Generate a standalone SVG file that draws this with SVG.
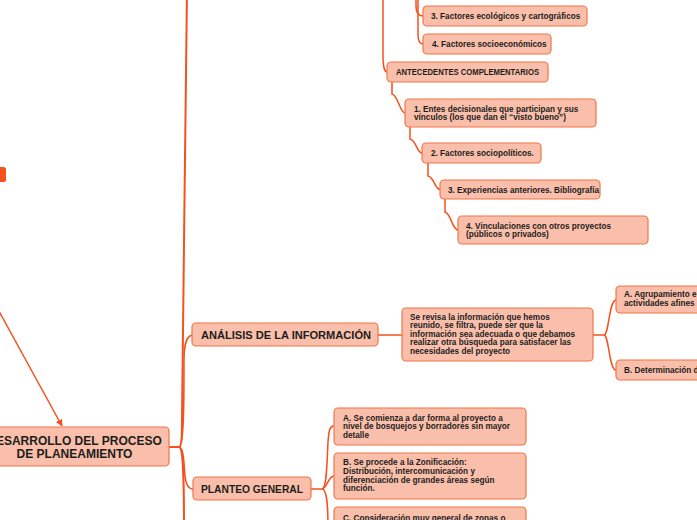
<svg xmlns="http://www.w3.org/2000/svg" width="697" height="520" viewBox="0 0 697 520">
<defs>
<style>
.box{fill:#f9bfaa;stroke:#f27548;stroke-width:1.2}
.ln{fill:none;stroke:#f4511e;stroke-width:1.5}
.tr{fill:none;stroke:#f4511e;stroke-width:2}
.s{font-family:"Liberation Sans",Arial,sans-serif;font-weight:bold;font-size:8.2px;fill:#1d1d1d}
.h{font-family:"Liberation Sans",Arial,sans-serif;font-weight:bold;font-size:11px;fill:#1d1d1d}
.c{font-family:"Liberation Sans",Arial,sans-serif;font-weight:bold;font-size:12px;fill:#1d1d1d;text-anchor:middle}
</style>
<marker id="arr" viewBox="0 0 10 10" refX="9" refY="5" markerWidth="7" markerHeight="7" orient="auto" markerUnits="userSpaceOnUse">
<path d="M0,0 L10,5 L0,10 z" fill="#f4511e"/>
</marker>
</defs>
<rect width="697" height="520" fill="#ffffff"/>

<g id="connectors">
<path class="tr" d="M179,447 C182,447 182,432 182,420 C183,300 186,100 187,-10"/>
<path class="tr" d="M169,447 H179"/>
<path class="ln" d="M179,447 C184,447 184,400 184,362 C184,342 187,335 193,335"/>
<path class="ln" d="M179,447 C184,447 184,466 185,476 C186,486 189,489 193,489"/>
<path class="tr" d="M179,447 C183,447 184,470 184,530"/>
<path class="ln" d="M378,335 H402"/>
<path class="ln" d="M593,335 H604"/>
<path class="ln" d="M604,335 C609,335 609,300 616,300"/>
<path class="ln" d="M604,335 C609,335 609,370 616,370"/>
<path class="ln" d="M311,489 H322"/>
<path class="ln" d="M322,489 C327,489 327,460 328,442 C329,429 330,426 334,426"/>
<path class="ln" d="M322,489 C327,489 328,476 334,476"/>
<path class="ln" d="M322,489 C327,489 328,505 328,530"/>
<path class="ln" d="M383,-10 L383,56 C383,67 385,72 387,72"/>
<path class="ln" d="M416,-10 L416,6 C416,13 419,16 423,16"/>
<path class="ln" d="M418,-10 L418,34 C418,41 420,44 423,44"/>
<path class="ln" d="M392,82 V94 C398,95 400,113 405,113"/>
<path class="ln" d="M410,127 V139 C416,140 417,153 422,153"/>
<path class="ln" d="M428,163 V176 C434,177 435,189.5 440,189.5"/>
<path class="ln" d="M445,199 V212 C451,213 452,230 458,230"/>
<path class="ln" d="M-3,307.5 L62,426" marker-end="url(#arr)"/>
</g>

<g id="left-fragment">
<rect x="-4" y="167" width="10" height="15" rx="2.5" fill="#f4511e"/>
</g>

<g id="n-factores3">
<rect class="box" x="423" y="6" width="164" height="20" rx="4"/>
<text class="s" x="431" y="19">3. Factores ecológicos y cartográficos</text>
</g>
<g id="n-factores4">
<rect class="box" x="423" y="34" width="128" height="20" rx="4"/>
<text class="s" x="432" y="47">4. Factores socioeconómicos</text>
</g>
<g id="n-antecedentes">
<rect class="box" x="387" y="62" width="161" height="20" rx="4"/>
<text class="s" x="396" y="75" textLength="143" lengthAdjust="spacingAndGlyphs">ANTECEDENTES COMPLEMENTARIOS</text>
</g>
<g id="n-entes">
<rect class="box" x="405" y="99" width="191" height="28" rx="4"/>
<text class="s" x="414" y="111.5">1. Entes decisionales que participan y sus</text>
<text class="s" x="414" y="120.3">vínculos (los que dan el “visto bueno”)</text>
</g>
<g id="n-sociopoliticos">
<rect class="box" x="422" y="143" width="119" height="20" rx="4"/>
<text class="s" x="431" y="156">2. Factores sociopolíticos.</text>
</g>
<g id="n-experiencias">
<rect class="box" x="440" y="180" width="160" height="19" rx="4"/>
<text class="s" x="448" y="192.5">3. Experiencias anteriores. Bibliografía</text>
</g>
<g id="n-vinculaciones">
<rect class="box" x="458" y="216" width="190" height="28" rx="4"/>
<text class="s" x="466" y="228.5">4. Vinculaciones con otros proyectos</text>
<text class="s" x="466" y="237.2">(públicos o privados)</text>
</g>

<g id="n-analisis">
<rect class="box" x="192" y="323" width="186" height="23" rx="4"/>
<text class="h" x="201" y="339" textLength="170" lengthAdjust="spacingAndGlyphs">ANÁLISIS DE LA INFORMACIÓN</text>
</g>
<g id="n-revisa">
<rect class="box" x="402" y="308" width="191" height="53" rx="4"/>
<text class="s" x="410" y="320">Se revisa la información que hemos</text>
<text class="s" x="410" y="328.4">reunido, se filtra, puede ser que la</text>
<text class="s" x="410" y="336.8">información sea adecuada o que debamos</text>
<text class="s" x="410" y="345.2">realizar otra búsqueda para satisfacer las</text>
<text class="s" x="410" y="353.6">necesidades del proyecto</text>
</g>
<g id="n-agrupamiento">
<rect class="box" x="616" y="286" width="110" height="27" rx="4"/>
<text class="s" x="624" y="297.3">A. Agrupamiento e</text>
<text class="s" x="624" y="306">actividades afines</text>
</g>
<g id="n-determinacion">
<rect class="box" x="616" y="360" width="110" height="20" rx="4"/>
<text class="s" x="624" y="372.5">B. Determinación d</text>
</g>

<g id="n-desarrollo">
<rect class="box" x="-20" y="427" width="189" height="39" rx="4"/>
<text class="c" x="74.5" y="445">DESARROLLO DEL PROCESO</text>
<text class="c" x="74.5" y="457.5">DE PLANEAMIENTO</text>
</g>

<g id="n-planteo">
<rect class="box" x="193" y="477" width="118" height="23" rx="4"/>
<text class="h" x="201" y="492.5" textLength="102" lengthAdjust="spacingAndGlyphs">PLANTEO GENERAL</text>
</g>
<g id="n-planteoA">
<rect class="box" x="334" y="408" width="192" height="37" rx="4"/>
<text class="s" x="343" y="420.7">A. Se comienza a dar forma al proyecto a</text>
<text class="s" x="343" y="429.2">nivel de bosquejos y borradores sin mayor</text>
<text class="s" x="343" y="437.7">detalle</text>
</g>
<g id="n-planteoB">
<rect class="box" x="334" y="453" width="192" height="46" rx="4"/>
<text class="s" x="343" y="465.3">B. Se procede a la Zonificación:</text>
<text class="s" x="343" y="474">Distribución, intercomunicación y</text>
<text class="s" x="343" y="482.7">diferenciación de grandes áreas según</text>
<text class="s" x="343" y="491.3">función.</text>
</g>
<g id="n-planteoC">
<rect class="box" x="334" y="507" width="192" height="30" rx="4"/>
<text class="s" x="343" y="521">C. Consideración muy general de zonas o</text>
</g>
</svg>
